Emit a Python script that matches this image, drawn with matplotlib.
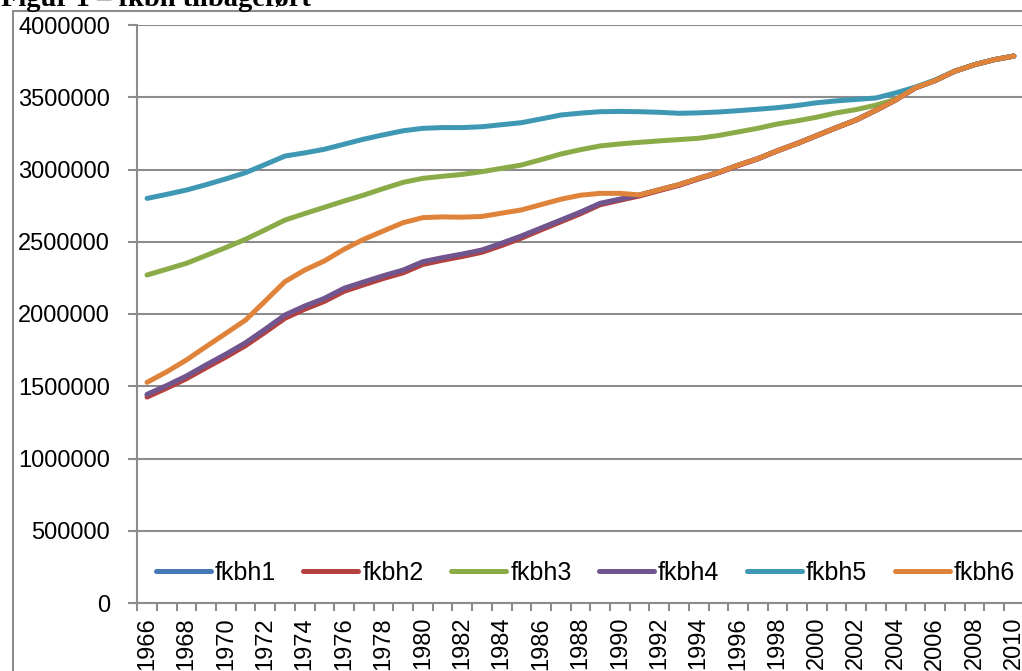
import numpy as np
import matplotlib
matplotlib.use("Agg")
import matplotlib.pyplot as plt
from matplotlib.patches import Rectangle

years = list(range(1966, 2011))
year_labels = [str(y) for y in years]

fkbh4 = [1444000, 1505000, 1571000, 1648000, 1722000, 1801000, 1895000, 1993000, 2055000, 2108000,
         2178000, 2222000, 2265000, 2304000, 2362000, 2390000, 2415000, 2443000, 2490000, 2540000,
         2595000, 2650000, 2705000, 2766000, 2795000, 2824000, 2860000, 2895000, 2939000, 2980000,
         3030000, 3075000, 3130000, 3180000, 3235000, 3290000, 3343000, 3410000, 3481000, 3565000,
         3615000, 3680000, 3725000, 3760000, 3785000]
fkbh1 = [1440000, 1500000, 1566000, 1643000, 1717000, 1796000, 1889000, 1987000, 2049000, 2102000,
         2172000, 2216000, 2259000, 2298000, 2356000, 2385000, 2410000, 2438000, 2486000, 2536000,
         2591000, 2646000, 2702000, 2763000, 2792000, 2822000, 2858000, 2893000, 2937000, 2979000,
         3029000, 3075000, 3130000, 3180000, 3235000, 3290000, 3343000, 3410000, 3481000, 3565000,
         3615000, 3680000, 3725000, 3760000, 3785000]
fkbh2 = [1425000, 1487000, 1552000, 1628000, 1702000, 1781000, 1874000, 1970000, 2033000, 2087000,
         2157000, 2202000, 2246000, 2285000, 2343000, 2372000, 2398000, 2427000, 2474000, 2525000,
         2582000, 2638000, 2694000, 2756000, 2787000, 2817000, 2854000, 2890000, 2935000, 2977000,
         3027000, 3073000, 3129000, 3180000, 3235000, 3290000, 3343000, 3410000, 3481000, 3565000,
         3615000, 3680000, 3725000, 3760000, 3785000]
fkbh3 = [2270000, 2310000, 2351000, 2405000, 2460000, 2517000, 2583000, 2650000, 2695000, 2738000,
         2782000, 2823000, 2868000, 2911000, 2939000, 2953000, 2966000, 2985000, 3008000, 3031000,
         3068000, 3107000, 3137000, 3163000, 3177000, 3188000, 3198000, 3207000, 3216000, 3235000,
         3260000, 3285000, 3315000, 3337000, 3362000, 3392000, 3415000, 3445000, 3485000, 3565000,
         3618000, 3680000, 3725000, 3760000, 3785000]
fkbh5 = [2800000, 2828000, 2858000, 2895000, 2935000, 2978000, 3035000, 3093000, 3115000, 3140000,
         3175000, 3210000, 3240000, 3268000, 3285000, 3290000, 3290000, 3296000, 3310000, 3324000,
         3350000, 3377000, 3390000, 3400000, 3402000, 3400000, 3396000, 3389000, 3392000, 3398000,
         3407000, 3417000, 3428000, 3443000, 3462000, 3475000, 3485000, 3495000, 3530000, 3570000,
         3619000, 3680000, 3725000, 3760000, 3785000]
fkbh6 = [1527000, 1600000, 1682000, 1775000, 1866000, 1958000, 2090000, 2224000, 2304000, 2367000,
         2448000, 2517000, 2575000, 2632000, 2667000, 2672000, 2670000, 2675000, 2698000, 2720000,
         2757000, 2794000, 2822000, 2835000, 2835000, 2824000, 2860000, 2895000, 2939000, 2980000,
         3030000, 3075000, 3130000, 3180000, 3235000, 3290000, 3343000, 3410000, 3481000, 3565000,
         3615000, 3680000, 3725000, 3760000, 3785000]

series_names = ["fkbh1", "fkbh2", "fkbh3", "fkbh4", "fkbh5", "fkbh6"]
series_data = [fkbh1, fkbh2, fkbh3, fkbh4, fkbh5, fkbh6]
colors = ["#4677B6", "#B3413F", "#8BAB48", "#70558F", "#3F98B3", "#E0833A"]

plt.rcParams['font.family'] = ['Liberation Sans', 'DejaVu Sans']
grid_c = "#8C8C8C"

fig = plt.figure(figsize=(10.22, 6.71), dpi=100)
ax = fig.add_axes([137.2 / 1022, 1 - 603 / 671, 886.5 / 1022, 578 / 671])

x = np.arange(len(years))
for name, d, c in zip(series_names, series_data, colors):
    ax.plot(x, d, color=c, lw=3.6, label=name, solid_capstyle='round', solid_joinstyle='round', zorder=3)

ax.set_xlim(-0.5, len(years) - 0.5)
ax.set_ylim(0, 4000000)
ax.set_yticks(np.arange(0, 4000001, 500000))
ax.set_yticklabels([str(v) for v in range(0, 4000001, 500000)], fontsize=17)
ax.yaxis.grid(True, color=grid_c, lw=1.5)
ax.set_axisbelow(True)

ax.set_xticks(x[::2])
ax.set_xticklabels(year_labels[::2], rotation=90, fontsize=17)
ax.set_xticks(np.arange(-0.5, len(years), 1), minor=True)
ax.tick_params(axis='x', which='major', length=0, pad=10)
ax.tick_params(axis='x', which='minor', length=6, width=1.5, color=grid_c)
ax.tick_params(axis='y', which='major', length=6.5, width=1.5, color=grid_c, pad=13)

for s in ['top', 'right']:
    ax.spines[s].set_visible(False)
for s in ['left', 'bottom']:
    ax.spines[s].set_color(grid_c)
    ax.spines[s].set_linewidth(1.5)

leg = ax.legend(loc='center left', bbox_to_anchor=(18.5 / 886.5, 30 / 578), ncol=6, frameon=False,
                fontsize=18, handlelength=2.2, handletextpad=0.16, columnspacing=1.1,
                borderaxespad=0, borderpad=0)

fig.add_artist(Rectangle((13 / 1022, -0.05), 1.1, 1 - 11 / 671 + 0.05, transform=fig.transFigure,
                         fill=False, edgecolor=grid_c, lw=1.5, clip_on=False))
fig.text(1 / 1022, 1 - 6 / 671, "Figur 1 – fkbh tilbageført", fontsize=20.5, fontweight='bold',
         family=['Liberation Serif', 'DejaVu Serif'], ha='left', va='baseline')

fig.savefig("out.png", dpi=100)
